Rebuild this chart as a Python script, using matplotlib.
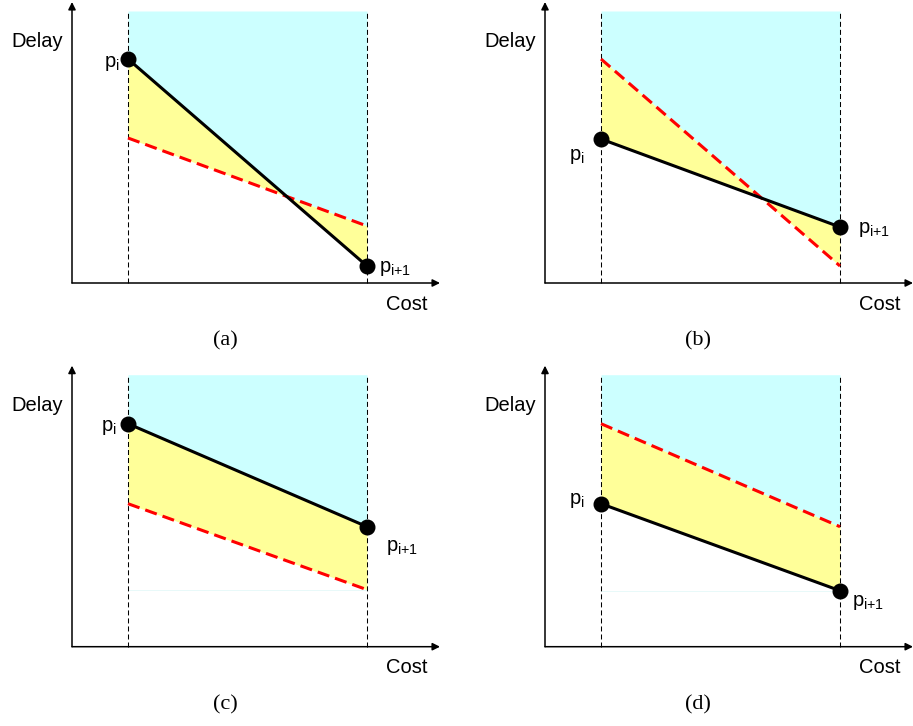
import numpy as np
import matplotlib
matplotlib.use("Agg")
import matplotlib.pyplot as plt

plt.rcParams['font.family'] = ['Liberation Sans', 'DejaVu Sans']
plt.rcParams['mathtext.fontset'] = 'custom'
plt.rcParams['mathtext.rm'] = 'Liberation Sans'
plt.rcParams['mathtext.it'] = 'Liberation Sans'

# ---- data (arbitrary units: cost on x, delay on y) ----
axis_cost_max = 368
axis_delay_max = 281
cost_bounds = [56, 295]          # dashed verticals (c_i, c_{i+1})
region_top = 272                 # top of shaded region

black_a = [224, 17]
red_a = [145, 57]
black_b = [144, 56]
red_b = [224, 17]
black_c = [223, 120]
red_c = [143, 57]
black_d = [143, 56]
red_d = [223, 120]

captions = ['(a)', '(b)', '(c)', '(d)']
label_lo = r'$\mathregular{p_i}$'
label_hi = r'$\mathregular{p_{i{+}1}}$'

# label offsets (pixels) for p_i and p_{i+1}: (dx, dy, ha)
lo_offsets = [(-8, -8, 'right'), (-16, -21, 'right'), (-11, -7, 'right'), (-16, 0, 'right')]
hi_offsets = [(12, -6, 'left'), (18, -6, 'left'), (19, -24, 'left'), (12, -15, 'left')]

# panel origins in pixels (x, y from top)
W, H = 913, 726
origins = [(72, 283), (545, 283), (72, 646.7), (545, 646.7)]

blacks = [black_a, black_b, black_c, black_d]
reds = [red_a, red_b, red_c, red_d]

CYAN = '#CCFFFF'
YELLOW = '#FFFF99'

fig = plt.figure(figsize=(W / 100, H / 100), dpi=100)

for k in range(4):
    ox, oy = origins[k]
    ax = fig.add_axes([ox / W, (H - oy) / H, axis_cost_max / W, axis_delay_max / H])
    ax.set_xlim(0, axis_cost_max)
    ax.set_ylim(0, axis_delay_max)
    ax.axis('off')

    lo, hi = cost_bounds
    b = blacks[k]
    r = reds[k]
    xs = np.linspace(lo, hi, 400)
    yb = np.interp(xs, cost_bounds, b)
    yr = np.interp(xs, cost_bounds, r)
    upper = np.maximum(yb, yr)

    ax.fill_between(xs, upper, region_top, color=CYAN, lw=0, zorder=1)
    ax.fill_between(xs, yb, yr, color=YELLOW, lw=0, zorder=1)
    crossing = (b[0] - r[0]) * (b[1] - r[1]) < 0
    if not crossing:
        low_level = min(min(b), min(r))
        ax.plot(cost_bounds, [low_level, low_level], color='#E4F9F9', lw=0.6, zorder=1.5)

    for c in cost_bounds:
        ax.plot([c, c], [0, region_top], color='black', lw=0.75,
                dashes=(4.8, 2.9), zorder=2, clip_on=False)

    ax.plot(cost_bounds, r, color='#FF0000', lw=2.2, dashes=(4, 2), zorder=3,
            solid_capstyle='butt', dash_capstyle='butt')
    ax.plot(cost_bounds, b, color='black', lw=2.2, zorder=4, solid_capstyle='round')
    ax.plot(cost_bounds, b, 'o', color='black', markersize=10.5, zorder=5, clip_on=False)

    # axes arrows
    ax.annotate('', xy=(axis_cost_max, 0), xytext=(0, 0),
                arrowprops=dict(arrowstyle='-|>', lw=1.1, color='black',
                                mutation_scale=11, shrinkA=0, shrinkB=0),
                annotation_clip=False, zorder=6)
    ax.annotate('', xy=(0, axis_delay_max), xytext=(0, 0),
                arrowprops=dict(arrowstyle='-|>', lw=1.1, color='black',
                                mutation_scale=11, shrinkA=0, shrinkB=0),
                annotation_clip=False, zorder=6)

    ax.text(-35, 241, 'Delay', fontsize=14.5, ha='center', va='center', clip_on=False)
    ax.text(335, -21, 'Cost', fontsize=14.5, ha='center', va='center', clip_on=False)
    ax.text(153, -58, captions[k], fontsize=16, ha='center', va='center',
            family='Liberation Serif', clip_on=False)

    dx, dy, ha = lo_offsets[k]
    ax.annotate(label_lo, xy=(lo, b[0]), xytext=(dx, dy), textcoords='offset pixels',
                ha=ha, va='baseline', fontsize=14.5, annotation_clip=False)
    dx, dy, ha = hi_offsets[k]
    ax.annotate(label_hi, xy=(hi, b[1]), xytext=(dx, dy), textcoords='offset pixels',
                ha=ha, va='baseline', fontsize=14.5, annotation_clip=False)

fig.savefig('out.png', dpi=100)
